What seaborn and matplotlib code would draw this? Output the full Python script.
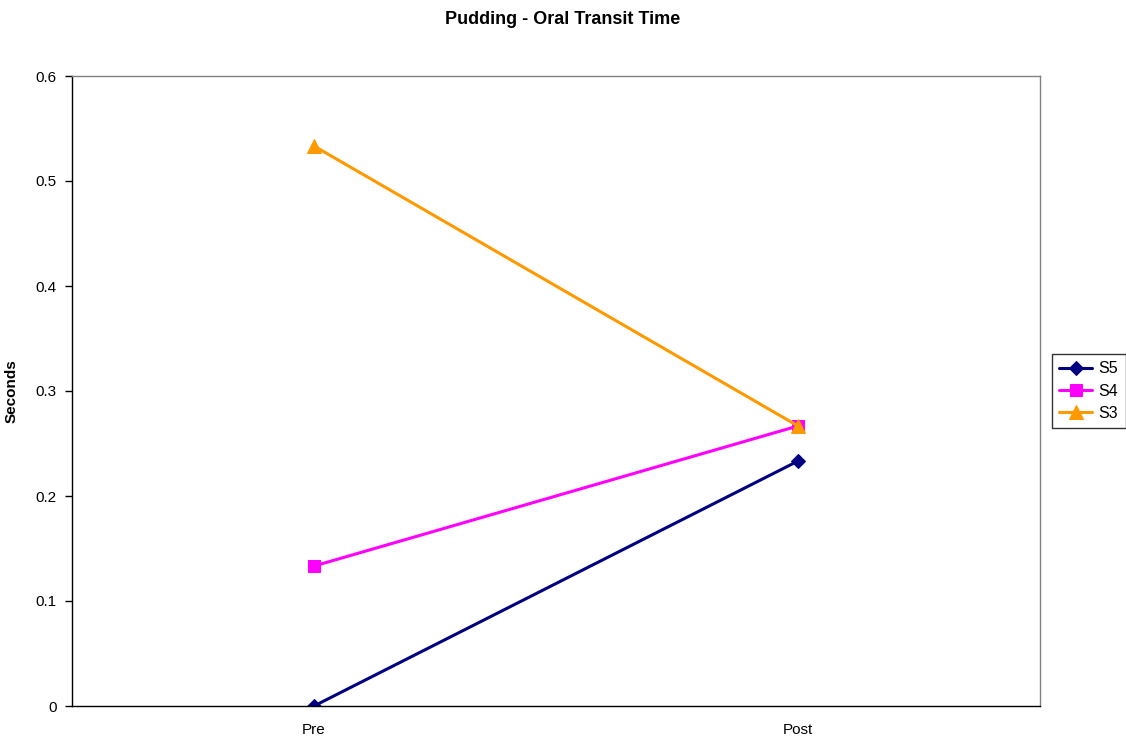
import matplotlib
matplotlib.use("Agg")
import matplotlib.pyplot as plt
from matplotlib.ticker import FixedLocator, FuncFormatter
import seaborn as sns
import pandas as pd

phases = ["Pre", "Post"]
subjects = ["S5", "S4", "S3"]
s5 = [0.0, 0.2333]
s4 = [0.1333, 0.2667]
s3 = [0.5333, 0.2667]

colors = {"S5": "#000080", "S4": "#FF00FF", "S3": "#FF9900"}
markers = {"S5": "D", "S4": "s", "S3": "^"}
msizes = {"S5": 7, "S4": 9, "S3": 10}

rows = []
for name, vals in zip(subjects, [s5, s4, s3]):
    for ph, v in zip(phases, vals):
        rows.append({"phase": ph, "seconds": v, "subject": name})
df = pd.DataFrame(rows)

sns.set_style("white")
plt.rcParams["font.family"] = ["Liberation Sans", "DejaVu Sans"]
plt.rcParams["text.color"] = "black"
plt.rcParams["axes.labelcolor"] = "black"
plt.rcParams["xtick.color"] = "black"
plt.rcParams["ytick.color"] = "black"

fig = plt.figure(figsize=(11.26, 7.40), dpi=100)
ax = fig.add_axes([72 / 1126, 34 / 740, 968 / 1126, 630 / 740])

for name in subjects:
    sub = df[df["subject"] == name]
    sns.lineplot(data=sub, x="phase", y="seconds", ax=ax, color=colors[name],
                 marker=markers[name], markersize=msizes[name],
                 markeredgecolor=colors[name], linewidth=2.2, label=name,
                 sort=False)

ax.set_xlim(-0.5, 1.5)
ax.set_ylim(0, 0.6)
ax.yaxis.set_major_locator(FixedLocator([0, 0.1, 0.2, 0.3, 0.4, 0.5, 0.6]))
ax.yaxis.set_major_formatter(FuncFormatter(lambda v, p: f"{v:g}"))
ax.set_xticks([0, 1])
ax.set_xticklabels(phases)
ax.set_xticks([-0.5, 0.5, 1.5], minor=True)
ax.tick_params(axis="x", which="major", length=0, labelsize=11, pad=12,
               labelcolor="black")
ax.tick_params(axis="x", which="minor", length=5, width=1, color="black", direction="out")
ax.tick_params(axis="y", which="major", length=5, width=1, color="black",
               direction="out", labelsize=11, pad=6, labelcolor="black")
ax.tick_params(left=True)

for side in ["top", "right"]:
    ax.spines[side].set_color("#808080")
    ax.spines[side].set_linewidth(1)
for side in ["left", "bottom"]:
    ax.spines[side].set_color("black")
    ax.spines[side].set_linewidth(1)

ax.set_xlabel("")
ax.set_ylabel("Seconds", fontsize=11, fontweight="bold", labelpad=12,
              color="black")
fig.suptitle("Pudding - Oral Transit Time", fontsize=13, fontweight="bold",
             y=0.985, color="black")

leg = ax.legend(loc="center left", bbox_to_anchor=(1.012, 0.5), frameon=True,
                fancybox=False, edgecolor="black", fontsize=11.5,
                handlelength=2.1, borderpad=0.45, labelspacing=0.45,
                handletextpad=0.4, borderaxespad=0)
leg.get_frame().set_linewidth(1)
for t in leg.get_texts():
    t.set_color("black")

fig.savefig("out.png", dpi=100, facecolor="white")
